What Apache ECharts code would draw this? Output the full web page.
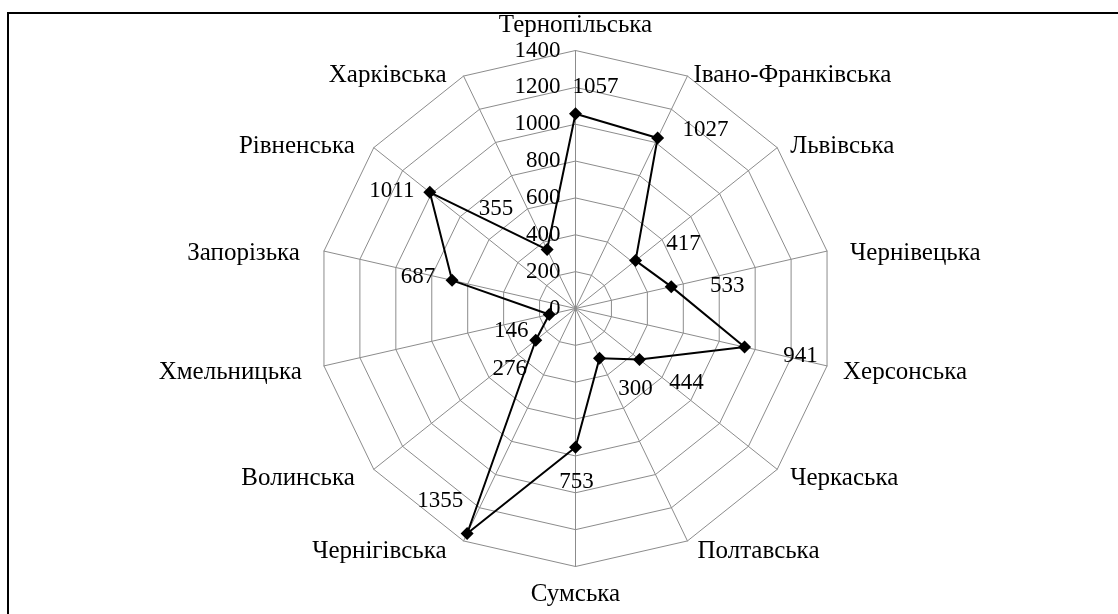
<!DOCTYPE html>
<html><head><meta charset="utf-8">
<script src="https://cdn.jsdelivr.net/npm/echarts@6/dist/echarts.min.js"></script>
<style>html,body{margin:0;padding:0;background:#fff}#c{width:1118px;height:614px}</style>
</head><body><div id="c"></div>
<script>
// Data (clockwise from top, as in the reference)
const regions = ['Тернопільська','Івано-Франківська','Львівська','Чернівецька','Херсонська','Черкаська','Полтавська','Сумська','Чернігівська','Волинська','Хмельницька','Запорізька','Рівненська','Харківська'];
const values = [1057,1027,417,533,941,444,300,753,1355,276,146,687,1011,355];
const axisMin = 0, axisMax = 1400, axisStep = 200;

// ---- style only (not data) ----
// value-label offsets (px) relative to each point, same order as regions
const labelOffsets = [[20,-27],[48,-8],[48,-17],[56,-1],[56,9],[47,23],[36,31],[1,35],[-27,-33],[-26,29],[-38,16],[-34,-3],[-38,-1],[-51,-41]];
// category-name placement: vertical anchor + padding [top, right, bottom, left]
const nameVAlign = ['bottom','bottom','bottom','top','top','top','top','top','top','top','top','top','bottom','bottom'];
const namePadding = [
  [0,0,13,0],[0,0,0,6],[0,0,0,13],[1,0,0,23],[6,0,0,16],[8,0,0,13],[9,0,0,10],
  [15,0,0,0],[9,17,0,0],[8,19,0,0],[6,22,0,0],[1,24,0,0],[0,19,0,0],[0,17,0,0]
];

// ECharts radar runs counter-clockwise; reorder so it reads clockwise
const n = regions.length;
const order = regions.map((_, i) => (n - i) % n);
const FONT = 'Liberation Serif';
const indicator = order.map((k, j) => {
  const side = k !== 0 && k !== 7;
  const o = { name: regions[k], min: axisMin, max: axisMax,
    nameTextStyle: side
      ? { padding: namePadding[k], verticalAlign: nameVAlign[k], lineHeight: 2 }
      : { padding: namePadding[k] } };
  if (j === 0) o.axisLabel = { show: true };
  return o;
});

const chart = echarts.init(document.getElementById('c'), null, { renderer: 'canvas' });
chart.setOption({
  animation: false,
  backgroundColor: '#fff',
  graphic: [{ type: 'rect', silent: true, z: -10,
    shape: { x: 8, y: 13, width: 1300, height: 800 },
    style: { fill: 'none', stroke: '#000', lineWidth: 2 } }],
  radar: {
    center: [575.5, 308.5],
    radius: 258,
    startAngle: 90,
    shape: 'polygon',
    splitNumber: (axisMax - axisMin) / axisStep,
    indicator: indicator,
    axisNameGap: 0,
    nameGap: 0,
    axisName: { color: '#000', fontFamily: FONT, fontSize: 25 },
    axisLine: { lineStyle: { color: '#8c8c8c', width: 1 } },
    splitLine: { lineStyle: { color: '#8c8c8c', width: 1 } },
    splitArea: { show: false },
    axisTick: { show: false },
    axisLabel: { show: false, color: '#000', fontFamily: FONT, fontSize: 23, margin: 15,
      showMinLabel: true, showMaxLabel: true, formatter: v => String(v) }
  },
  series: [{
    type: 'radar',
    symbol: 'diamond',
    symbolSize: 13,
    lineStyle: { color: '#000', width: 2 },
    itemStyle: { color: '#000' },
    label: { show: true, color: '#000', fontFamily: FONT, fontSize: 23 },
    labelLayout: function (p) {
      const k = values.indexOf(Number(p.text));
      if (k < 0) return {};
      const r = p.rect;
      return { x: r.x + r.width / 2 + labelOffsets[k][0], y: r.y + r.height / 2 + labelOffsets[k][1], align: 'center', verticalAlign: 'middle' };
    },
    data: [{ value: order.map(k => values[k]) }]
  }]
});
</script>
</body></html>
